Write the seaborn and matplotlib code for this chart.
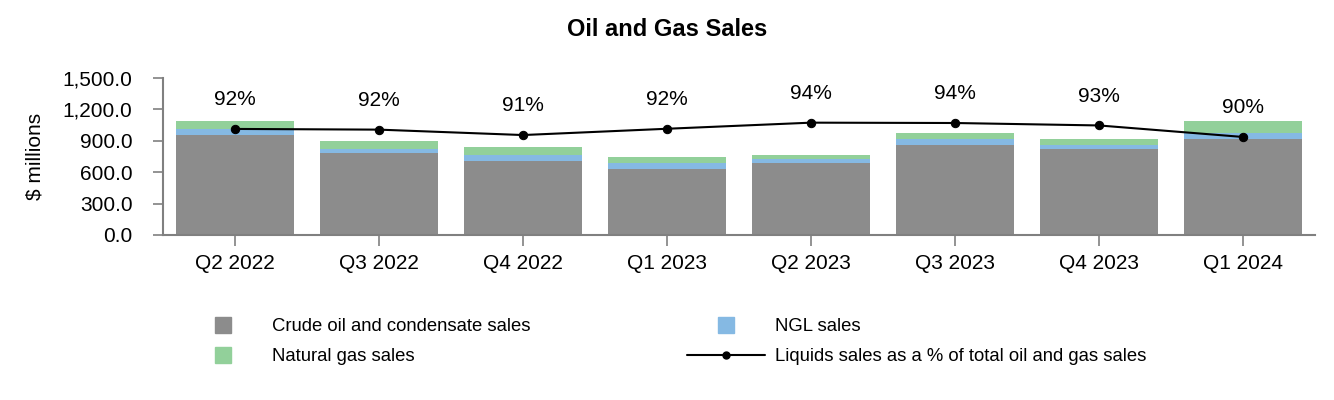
import numpy as np
import pandas as pd
import matplotlib
matplotlib.use("Agg")
import matplotlib.pyplot as plt
import seaborn as sns
from matplotlib.lines import Line2D

quarters = ["Q2 2022", "Q3 2022", "Q4 2022", "Q1 2023", "Q2 2023", "Q3 2023", "Q4 2023", "Q1 2024"]
crude = [957, 788, 708, 632, 689, 861, 823, 919]
ngl = [54, 38, 58, 57, 38, 58, 38, 57]
gas = [80, 74, 76, 57, 38, 57, 58, 115]
liquids_pct = [92.4, 92.2, 90.65, 92.45, 94.2, 94.1, 93.4, 90.1]
pct_labels = ["92%", "92%", "91%", "92%", "94%", "94%", "93%", "90%"]

C_CRUDE = "#8c8c8c"
C_NGL = "#85b9e3"
C_GAS = "#92d09a"
AXC = "#808080"

sns.set_theme(style="white")
plt.rcParams["font.family"] = ["Liberation Sans", "DejaVu Sans"]
plt.rcParams["text.color"] = "black"

df = pd.DataFrame({"quarter": quarters, "crude": crude, "ngl": ngl, "gas": gas})
df["lvl2"] = df["crude"] + df["ngl"]
df["lvl3"] = df["lvl2"] + df["gas"]

fig = plt.figure(figsize=(13.34, 4.0), dpi=100)
L, R, T, B = 163, 1315, 78, 235
ax = fig.add_axes([L / 1334, 1 - B / 400, (R - L) / 1334, (B - T) / 400])

w = 0.815
for col, c in [("lvl3", C_GAS), ("lvl2", C_NGL), ("crude", C_CRUDE)]:
    sns.barplot(data=df, x="quarter", y=col, color=c, width=w, ax=ax, saturation=1,
                linewidth=0, edgecolor="none", zorder=2)

ax.set_xlim(-0.5, len(quarters) - 0.5)
ax.set_ylim(0, 1500)
ax.set_yticks([0, 300, 600, 900, 1200, 1500])
ax.set_yticklabels([f"{v:,.1f}" for v in [0, 300, 600, 900, 1200, 1500]])
ax.set_xlabel("")
ax.set_ylabel("$ millions", fontsize=15, color="black")
ax.yaxis.set_label_coords((45 - L) / (R - L), 0.5)
for s in ["top", "right"]:
    ax.spines[s].set_visible(False)
for s in ["left", "bottom"]:
    ax.spines[s].set_color(AXC)
    ax.spines[s].set_linewidth(1.5)
ax.tick_params(axis="x", direction="out", length=8, width=1.2, color=AXC, labelsize=15, pad=6, labelcolor="black", bottom=True)
ax.tick_params(axis="y", direction="out", length=7, width=1.2, color=AXC, labelsize=15, pad=15, labelcolor="black", left=True)
ax.grid(False)

ax2 = ax.twinx()
ax2.set_ylim(62, 107)
xs = np.arange(len(quarters))
sns.lineplot(x=xs, y=liquids_pct, ax=ax2, color="black", lw=1.5, marker="o", markersize=6,
             markeredgecolor="black", zorder=5)
for x, y, t in zip(xs, liquids_pct, pct_labels):
    ax2.annotate(t, (x, y), xytext=(0, 21), textcoords="offset points", ha="center", va="center",
                 fontsize=15, color="black")
ax2.set_yticks([])
ax2.set_ylabel("")
for s in ax2.spines.values():
    s.set_visible(False)
ax2.set_xlim(-0.5, len(quarters) - 0.5)

fig.text(0.5, 1 - 30 / 400, "Oil and Gas Sales", ha="center", va="center", fontsize=17,
         fontweight="bold", color="black")

handles = [
    Line2D([], [], marker="s", linestyle="none", markersize=12, color=C_CRUDE),
    Line2D([], [], marker="s", linestyle="none", markersize=12, color=C_GAS),
    Line2D([], [], marker="s", linestyle="none", markersize=12, color=C_NGL),
    Line2D([], [], marker="o", color="black", lw=1.5, markersize=5),
]
labels = ["Crude oil and condensate sales", "Natural gas sales", "NGL sales",
          "Liquids sales as a % of total oil and gas sales"]
fig.legend(handles, labels, ncol=2, loc="upper left", bbox_to_anchor=(184 / 1334, 1 - 318 / 400),
           frameon=False, fontsize=13.3, handlelength=4.2, handletextpad=0.54, columnspacing=8.5,
           labelspacing=0.72, borderpad=0, borderaxespad=0, labelcolor="black")

fig.savefig("out.png", dpi=100)
